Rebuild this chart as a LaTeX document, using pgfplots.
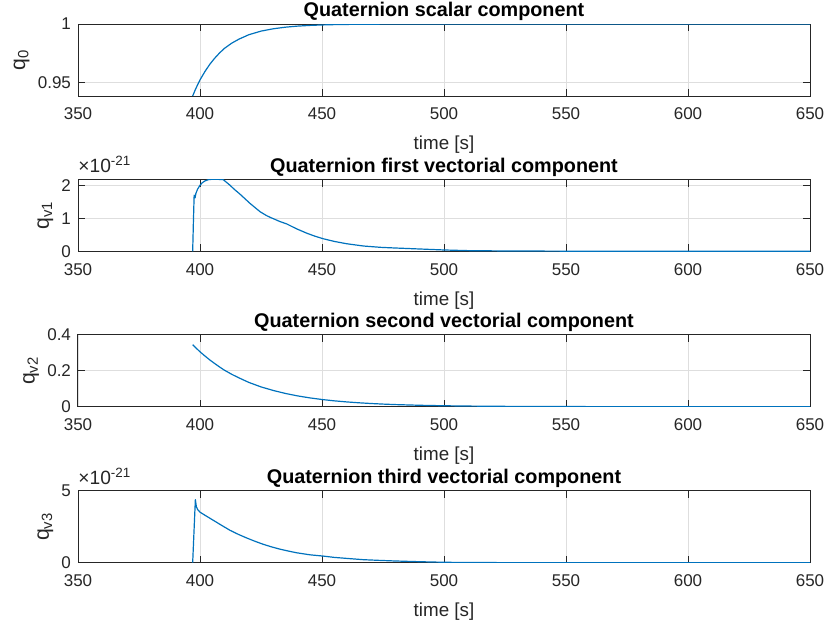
\documentclass[border=0pt]{standalone}
\usepackage{fontspec}
\setmainfont{Liberation Sans}
\usepackage{pgfplots}
\pgfplotsset{compat=1.18}
\definecolor{mblue}{rgb}{0,0.447,0.741}
\definecolor{mgray}{rgb}{0.15,0.15,0.15}
\definecolor{mgrid}{rgb}{0.87,0.87,0.87}
\pgfplotsset{
  qstyle/.style={
    scale only axis, width=366pt, height=36pt,
    anchor=north west,
    xmin=350, xmax=650, xtick={350,400,...,650},
    grid=major, major grid style={mgrid, line width=0.45pt},
    axis line style={mgray, line width=0.5pt},
    tick style={mgray, line width=0.5pt},
    tick align=inside, major tick length=3.6pt,
    /pgf/number format/assume math mode=true,
    ticklabel style={font=\fontsize{8.5}{10}\selectfont, text=mgray},
    xticklabel style={yshift=-2.5pt},
    xlabel={time [s]},
    label style={font=\fontsize{9.4}{11}\selectfont, text=mgray},
    xlabel style={yshift=-1.2pt},
    every axis y label/.style={at={(ticklabel cs:0.5)}, rotate=90, anchor=near ticklabel, inner sep=0.6pt, font=\fontsize{10.6}{12}\selectfont, text=mgray},
    every axis title/.style={at={(0.5,1)}, anchor=base, yshift=3.6pt, font=\fontsize{9.9}{11}\selectfont\bfseries, text=black},
    scaled y ticks=false,
  },
  qline/.style={mblue, line width=0.6pt, mark=none, line join=round},
  scalelab/.style={
    extra description/.code={
      \node[anchor=base west, inner sep=0pt, font=\fontsize{9.6}{11}\selectfont, text=mgray] at (rel axis cs:0,1) [yshift=3.2pt] {×10\textsuperscript{-21}};
    }
  }
}
\begin{document}
\begin{tikzpicture}
\useasboundingbox (0,0) rectangle (414.5pt,-310.5pt);

% q0
\begin{axis}[qstyle, at={(39pt,-12pt)},
  ymin=0.9386, ymax=1, ytick={0.95,1},
  ylabel={q\textsubscript{0}},
  title={Quaternion scalar component}]
\addplot[qline] table {
x y
397 0.93860
398 0.94363
399 0.94809
400 0.95235
402 0.95941
404 0.96561
406 0.97077
408 0.97528
410 0.97918
413 0.98367
416 0.98712
420 0.99085
425 0.99393
430 0.99592
435 0.99729
440 0.99820
445 0.99880
450 0.99920
455 0.99947
460 0.99964
470 0.99984
480 0.99993
490 0.99997
500 0.99999
520 1.00000
650 1.00000
};
\end{axis}

% qv1
\begin{axis}[qstyle, scalelab, at={(39pt,-89.65pt)},
  ymin=0, ymax=2.18, ytick={0,1,2},
  ylabel={q\textsubscript{v1}},
  title={Quaternion first vectorial component}]
\addplot[qline] table {
x y
397.0 0
397.3 0.90
397.6 1.70
398.0 1.62
398.3 1.75
399.0 1.88
400.0 2.00
401.0 2.08
402.0 2.13
403.5 2.17
405.0 2.18
407.0 2.18
409.5 2.17
411.0 2.08
412.3 2.00
414.0 1.88
416.4 1.73
420.5 1.45
424.6 1.20
427.3 1.08
428.7 1.03
432.8 0.90
435.5 0.83
439.6 0.68
443.7 0.55
447.0 0.46
450.5 0.38
455.0 0.30
460.0 0.23
467.0 0.16
474.0 0.12
480.0 0.10
490.0 0.07
500.0 0.04
510.0 0.02
525.0 0.01
550.0 0.004
600.0 0.001
650.0 0
};
\end{axis}

% qv2
\begin{axis}[qstyle, at={(39pt,-167.35pt)},
  ymin=0, ymax=0.4, ytick={0,0.2,0.4},
  ylabel={q\textsubscript{v2}},
  title={Quaternion second vectorial component}]
\addplot[qline] table {
x y
397 0.345
398 0.331
399 0.318
400 0.305
402 0.282
404 0.260
406 0.240
408 0.221
410 0.203
413 0.180
416 0.160
420 0.135
425 0.110
430 0.0903
435 0.0736
440 0.0600
445 0.0490
450 0.0400
455 0.0326
460 0.0267
465 0.0218
470 0.0178
475 0.0145
480 0.0118
490 0.0079
500 0.0052
510 0.0035
520 0.0023
535 0.0013
550 0.0007
575 0.0003
600 0.0001
625 0.00004
650 0.00002
};
\end{axis}

% qv3
\begin{axis}[qstyle, scalelab, at={(39pt,-245.35pt)},
  ymin=0, ymax=5, ytick={0,5},
  ylabel={q\textsubscript{v3}},
  title={Quaternion third vectorial component}]
\addplot[qline] table {
x y
397.0 0
397.5 2.00
398.1 4.38
398.5 3.90
399.0 3.70
400.0 3.51
402.0 3.30
405.5 2.94
409.0 2.58
412.3 2.25
415.7 1.97
419.1 1.72
422.5 1.49
425.9 1.28
429.3 1.10
432.8 0.94
436.2 0.81
439.6 0.69
445.0 0.55
450.5 0.46
455.0 0.37
460.1 0.30
467.0 0.21
473.8 0.16
480.0 0.12
490.0 0.07
500.0 0.03
510.0 0.015
525.0 0.006
550.0 0.002
600.0 0.0005
650.0 0
};
\end{axis}
\end{tikzpicture}
\end{document}
